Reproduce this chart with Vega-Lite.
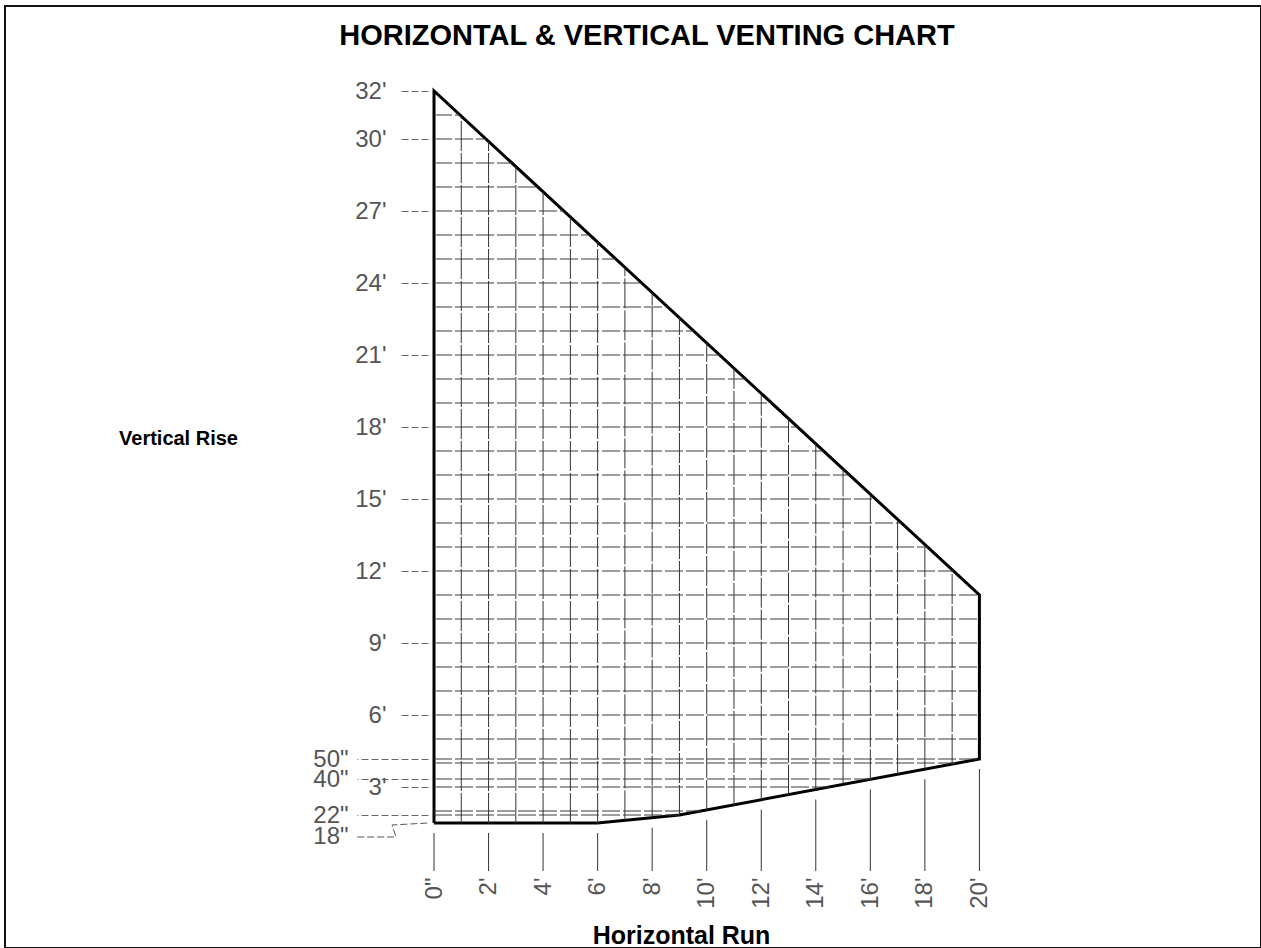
{
  "$schema": "https://vega.github.io/schema/vega-lite/v6.json",
  "width": 1256,
  "height": 942,
  "autosize": {"type": "none"},
  "padding": {"left": 5, "top": 6, "right": 0, "bottom": 0},
  "background": "white",
  "config": {"view": {"stroke": "#111", "strokeWidth": 2}, "font": "Liberation Sans"},
  "datasets": {
    "heading": [
      {"text": "HORIZONTAL & VERTICAL VENTING CHART", "x": 7.81, "y": 33.9}
    ],
    "outline": [
      {"x": 0, "y": 1.5, "ord": 1},
      {"x": 0, "y": 32, "ord": 2},
      {"x": 20, "y": 11, "ord": 3},
      {"x": 20, "y": 4.1667, "ord": 4},
      {"x": 9, "y": 1.8333, "ord": 5},
      {"x": 6, "y": 1.5, "ord": 6},
      {"x": 0, "y": 1.5, "ord": 7}
    ],
    "hgrid": [
      {"y": 1.8333, "x1": 0, "x2": 9},
      {"y": 2, "x1": 0, "x2": 9.79},
      {"y": 3, "x1": 0, "x2": 14.5},
      {"y": 3.3333, "x1": 0, "x2": 16.07},
      {"y": 4, "x1": 0, "x2": 19.21},
      {"y": 4.1667, "x1": 0, "x2": 20},
      {"y": 5, "x1": 0, "x2": 20},
      {"y": 6, "x1": 0, "x2": 20},
      {"y": 7, "x1": 0, "x2": 20},
      {"y": 8, "x1": 0, "x2": 20},
      {"y": 9, "x1": 0, "x2": 20},
      {"y": 10, "x1": 0, "x2": 20},
      {"y": 11, "x1": 0, "x2": 20},
      {"y": 12, "x1": 0, "x2": 19.05},
      {"y": 13, "x1": 0, "x2": 18.1},
      {"y": 14, "x1": 0, "x2": 17.14},
      {"y": 15, "x1": 0, "x2": 16.19},
      {"y": 16, "x1": 0, "x2": 15.24},
      {"y": 17, "x1": 0, "x2": 14.29},
      {"y": 18, "x1": 0, "x2": 13.33},
      {"y": 19, "x1": 0, "x2": 12.38},
      {"y": 20, "x1": 0, "x2": 11.43},
      {"y": 21, "x1": 0, "x2": 10.48},
      {"y": 22, "x1": 0, "x2": 9.52},
      {"y": 23, "x1": 0, "x2": 8.57},
      {"y": 24, "x1": 0, "x2": 7.62},
      {"y": 25, "x1": 0, "x2": 6.67},
      {"y": 26, "x1": 0, "x2": 5.71},
      {"y": 27, "x1": 0, "x2": 4.76},
      {"y": 28, "x1": 0, "x2": 3.81},
      {"y": 29, "x1": 0, "x2": 2.86},
      {"y": 30, "x1": 0, "x2": 1.9},
      {"y": 31, "x1": 0, "x2": 0.95}
    ],
    "vgrid": [
      {"x": 1, "y1": 1.5, "y2": 30.95},
      {"x": 2, "y1": 1.5, "y2": 29.9},
      {"x": 3, "y1": 1.5, "y2": 28.85},
      {"x": 4, "y1": 1.5, "y2": 27.8},
      {"x": 5, "y1": 1.5, "y2": 26.75},
      {"x": 6, "y1": 1.5, "y2": 25.7},
      {"x": 7, "y1": 1.611, "y2": 24.65},
      {"x": 8, "y1": 1.722, "y2": 23.6},
      {"x": 9, "y1": 1.833, "y2": 22.55},
      {"x": 10, "y1": 2.045, "y2": 21.5},
      {"x": 11, "y1": 2.258, "y2": 20.45},
      {"x": 12, "y1": 2.47, "y2": 19.4},
      {"x": 13, "y1": 2.682, "y2": 18.35},
      {"x": 14, "y1": 2.894, "y2": 17.3},
      {"x": 15, "y1": 3.106, "y2": 16.25},
      {"x": 16, "y1": 3.318, "y2": 15.2},
      {"x": 17, "y1": 3.53, "y2": 14.15},
      {"x": 18, "y1": 3.742, "y2": 13.1},
      {"x": 19, "y1": 3.955, "y2": 12.05}
    ],
    "xticks": [
      {"x": 0, "y1": 1.083, "y2": -0.5},
      {"x": 2, "y1": 1.083, "y2": -0.5},
      {"x": 4, "y1": 1.083, "y2": -0.5},
      {"x": 6, "y1": 1.083, "y2": -0.5},
      {"x": 8, "y1": 1.306, "y2": -0.5},
      {"x": 10, "y1": 1.629, "y2": -0.5},
      {"x": 12, "y1": 2.053, "y2": -0.5},
      {"x": 14, "y1": 2.477, "y2": -0.5},
      {"x": 16, "y1": 2.902, "y2": -0.5},
      {"x": 18, "y1": 3.326, "y2": -0.5},
      {"x": 20, "y1": 3.75, "y2": -0.5}
    ],
    "jog": [
      {"x": -2.82, "y": 0.917, "ord": 1},
      {"x": -1.39, "y": 0.917, "ord": 2},
      {"x": -1.54, "y": 1.417, "ord": 3},
      {"x": -0.22, "y": 1.5, "ord": 4}
    ]
  },
  "layer": [
    {
      "data": {"name": "outline"},
      "mark": {"type": "line", "color": "#000", "strokeWidth": 3, "strokeJoin": "miter"},
      "encoding": {
        "x": {
          "field": "x", "type": "quantitative",
          "scale": {"domain": [-15.732, 30.326], "nice": false, "zero": false},
          "axis": {
            "values": [0, 2, 4, 6, 8, 10, 12, 14, 16, 18, 20],
            "labelExpr": "datum.value == 0 ? '0\"' : datum.value + \"'\"",
            "ticks": false, "domain": false, "grid": false, "offset": -77,
            "labelAngle": -90, "labelPadding": 6, "labelFontSize": 24, "labelColor": "#555",
            "labelFont": "Liberation Sans", "labelFlush": false, "labelOverlap": false,
            "title": "Horizontal Run", "titleFontSize": 25, "titleFontWeight": "bold", "titleColor": "#000",
            "titleFont": "Liberation Sans", "titleX": 676, "titleY": 72, "titleAlign": "center", "titleBaseline": "alphabetic"
          }
        },
        "y": {
          "field": "y", "type": "quantitative",
          "scale": {"domain": [-3.7083, 35.5417], "nice": false, "zero": false},
          "axis": {
            "values": [1.5, 1.8333, 3, 3.3333, 4.1667, 6, 9, 12, 15, 18, 21, 24, 27, 30, 32],
            "labelExpr": "datum.value == 1.5 ? '18\"' : datum.value < 2 ? '22\"' : datum.value == 3 ? \"3'\" : datum.value < 4 ? '40\"' : datum.value < 5 ? '50\"' : datum.value + \"'\"",
            "domain": false, "grid": false, "offset": -423,
            "tickSize": {"condition": {"test": "datum.value < 5 && datum.value != 3", "value": 71}, "value": 28},
            "tickOpacity": {"condition": {"test": "datum.value == 1.5", "value": 0}, "value": 1},
            "tickColor": "#666", "tickDash": [7, 3], "tickWidth": 1,
            "labelPadding": {"condition": {"test": "datum.value < 5 && datum.value != 3", "value": 9}, "value": 14},
            "labelOffset": {"condition": {"test": "datum.value == 1.5", "value": 13}, "value": 0},
            "labelFontSize": 24, "labelColor": "#555", "labelFont": "Liberation Sans",
            "labelOverlap": false, "labelFlush": false,
            "title": "Vertical Rise", "titleAngle": 0, "titleX": -250, "titleY": 432,
            "titleAlign": "center", "titleBaseline": "middle", "titleFontSize": 20,
            "titleFontWeight": "bold", "titleColor": "#000", "titleFont": "Liberation Sans"
          }
        },
        "order": {"field": "ord", "type": "quantitative"}
      }
    },
    {
      "data": {"name": "hgrid"},
      "mark": {"type": "rule", "color": "#3a3a3a", "strokeWidth": 1, "strokeDash": [18, 3]},
      "encoding": {
        "x": {"field": "x1", "type": "quantitative", "scale": {"domain": [-15.732, 30.326], "nice": false, "zero": false}},
        "x2": {"field": "x2"},
        "y": {"field": "y", "type": "quantitative", "scale": {"domain": [-3.7083, 35.5417], "nice": false, "zero": false}}
      }
    },
    {
      "data": {"name": "vgrid"},
      "mark": {"type": "rule", "color": "#333", "strokeWidth": 1, "strokeDash": [30, 2]},
      "encoding": {
        "x": {"field": "x", "type": "quantitative", "scale": {"domain": [-15.732, 30.326], "nice": false, "zero": false}},
        "y": {"field": "y1", "type": "quantitative", "scale": {"domain": [-3.7083, 35.5417], "nice": false, "zero": false}},
        "y2": {"field": "y2"}
      }
    },
    {
      "data": {"name": "xticks"},
      "mark": {"type": "rule", "color": "#333", "strokeWidth": 1},
      "encoding": {
        "x": {"field": "x", "type": "quantitative", "scale": {"domain": [-15.732, 30.326], "nice": false, "zero": false}},
        "y": {"field": "y1", "type": "quantitative", "scale": {"domain": [-3.7083, 35.5417], "nice": false, "zero": false}},
        "y2": {"field": "y2"}
      }
    },
    {
      "data": {"name": "jog"},
      "mark": {"type": "line", "color": "#555", "strokeWidth": 1, "strokeDash": [7, 3]},
      "encoding": {
        "x": {"field": "x", "type": "quantitative", "scale": {"domain": [-15.732, 30.326], "nice": false, "zero": false}},
        "y": {"field": "y", "type": "quantitative", "scale": {"domain": [-3.7083, 35.5417], "nice": false, "zero": false}},
        "order": {"field": "ord", "type": "quantitative"}
      }
    },
    {
      "data": {"name": "heading"},
      "mark": {"type": "text", "font": "Liberation Sans", "fontWeight": "bold", "fontSize": 29, "color": "#000", "align": "center", "baseline": "alphabetic"},
      "encoding": {
        "x": {"field": "x", "type": "quantitative", "scale": {"domain": [-15.732, 30.326], "nice": false, "zero": false}},
        "y": {"field": "y", "type": "quantitative", "scale": {"domain": [-3.7083, 35.5417], "nice": false, "zero": false}},
        "text": {"field": "text"}
      }
    }
  ]
}
